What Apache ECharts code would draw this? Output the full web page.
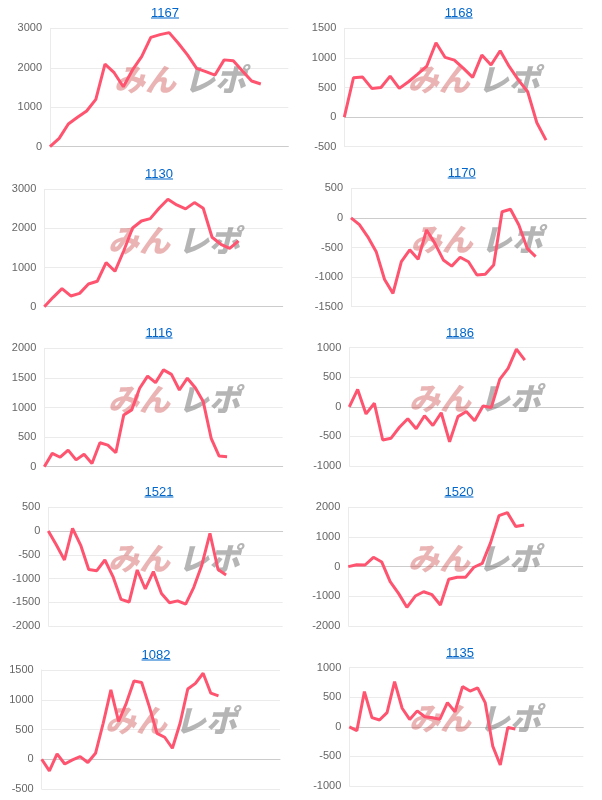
<!DOCTYPE html>
<html>
<head>
<meta charset="utf-8">
<script src="https://cdn.jsdelivr.net/npm/echarts@6/dist/echarts.min.js"></script>
<style>
  body { margin: 0; background: #fff; }
  #wrap { position: relative; width: 602px; height: 800px; }
  #main { width: 602px; height: 800px; }
  .ttl {
    position: absolute;
    font: 13px Arial, "Liberation Sans", sans-serif;
    color: #0066cc;
    text-decoration: underline;
    line-height: 13px;
    white-space: nowrap;
    transform: translate(-50%, -50%);
  }
</style>
</head>
<body>
<div id="wrap">
  <div id="main"></div>
</div>
<script>
// machine numbers (panel titles)
const titles = ['1167', '1168', '1130', '1170', '1116', '1186', '1521', '1520', '1082', '1135'];

// number of x categories on each panel
const catCounts = [27, 27, 28, 29, 31, 29, 30, 29, 32, 32];

// y axis ticks
const yMin = [0, -500, 0, -1500, 0, -1000, -2000, -2000, -500, -1000];
const yMax = [3000, 1500, 3000, 500, 2000, 1000, 500, 2000, 1500, 1000];
const yStep = [1000, 500, 1000, 500, 500, 500, 500, 1000, 500, 500];

// series values
const d1167 = [0, 210, 575, 745, 905, 1200, 2090, 1875, 1520, 1945, 2280, 2770, 2840, 2890, 2620, 2325, 1985, 1900, 1815, 2200, 2180, 1920, 1665, 1590];
const d1168 = [0, 665, 676, 485, 500, 693, 485, 597, 727, 862, 1256, 1008, 963, 822, 670, 1048, 879, 1121, 851, 625, 428, -96, -389];
const d1130 = [0, 240, 460, 275, 340, 580, 650, 1125, 905, 1430, 2010, 2190, 2250, 2515, 2745, 2600, 2500, 2660, 2515, 1775, 1595, 1490, 1680];
const d1170 = [0, -115, -320, -570, -1040, -1275, -740, -540, -700, -205, -430, -710, -815, -665, -740, -965, -950, -795, 105, 145, -120, -515, -655];
const d1116 = [0, 225, 160, 280, 115, 210, 55, 405, 365, 235, 875, 960, 1325, 1530, 1420, 1635, 1560, 1295, 1495, 1335, 1100, 480, 180, 170];
const d1186 = [0, 295, -120, 60, -560, -530, -345, -200, -370, -150, -315, -100, -590, -165, -80, -235, 15, -10, 465, 650, 975, 790];
const d1521 = [0, -295, -610, 55, -295, -808, -835, -610, -960, -1440, -1495, -820, -1220, -855, -1315, -1510, -1470, -1540, -1185, -715, -50, -810, -925];
const d1520 = [0, 65, 55, 315, 155, -505, -900, -1370, -990, -845, -945, -1290, -425, -360, -360, -20, 110, 810, 1720, 1820, 1350, 1405];
const d1082 = [0, -195, 90, -80, -10, 45, -55, 100, 605, 1165, 635, 940, 1315, 1290, 885, 435, 370, 185, 605, 1180, 1275, 1445, 1110, 1065];
const d1135 = [0, -65, 595, 155, 115, 240, 765, 315, 125, 270, 170, 155, 130, 410, 255, 680, 605, 660, 410, -325, -645, -10, -35];

const seriesData = [d1167, d1168, d1130, d1170, d1116, d1186, d1521, d1520, d1082, d1135];

// panel layout: [gridLeft, gridRight, gridTop, gridBottom, titleCenterX]
const boxes = [
  [50, 288.3, 28.3, 146.7, 165],
  [344.3, 582.7, 28.3, 146.7, 458.7],
  [44.3, 282.7, 189.3, 306.7, 159],
  [351, 586, 188.3, 306.7, 461.7],
  [44.3, 282.7, 348.3, 466.7, 159],
  [349.3, 583.3, 347.7, 466, 460],
  [48.3, 282.7, 507.3, 626, 159],
  [348.3, 582.7, 507.3, 626, 459],
  [41.7, 280, 670, 789, 156],
  [349.3, 583.3, 667.7, 786, 460]
];

const lineColor = '#ff5470';

const wrap = document.getElementById('wrap');
const grid = [], xAxis = [], yAxis = [], series = [], graphic = [];

titles.forEach((t, i) => {
  const b = boxes[i];

  const a = document.createElement('a');
  a.className = 'ttl';
  a.href = '#';
  a.textContent = t;
  a.style.left = b[4] + 'px';
  a.style.top = (b[2] - 16) + 'px';
  wrap.appendChild(a);

  grid.push({
    left: b[0],
    top: b[2],
    width: b[1] - b[0],
    height: b[3] - b[2]
  });

  const cats = [];
  for (let k = 1; k <= catCounts[i]; k++) cats.push(String(k));

  xAxis.push({
    type: 'category',
    gridIndex: i,
    data: cats,
    boundaryGap: false,
    axisLabel: { show: false },
    axisTick: { show: false },
    axisLine: { lineStyle: { color: '#cccccc', width: 1 } },
    splitLine: { show: false }
  });

  yAxis.push({
    type: 'value',
    gridIndex: i,
    min: yMin[i],
    max: yMax[i],
    interval: yStep[i],
    axisLine: { show: true, lineStyle: { color: '#ebebeb' } },
    axisTick: { show: false },
    axisLabel: {
      color: '#666',
      fontSize: 11,
      fontFamily: 'Arial, "Liberation Sans", sans-serif',
      margin: 8,
      formatter: v => String(v)
    },
    splitLine: { lineStyle: { color: '#ebebeb', width: 1 } }
  });

  series.push({
    type: 'line',
    xAxisIndex: i,
    yAxisIndex: i,
    data: seriesData[i],
    showSymbol: false,
    symbol: 'none',
    smooth: false,
    lineStyle: { color: lineColor, width: 3 },
    itemStyle: { color: lineColor },
    animation: false,
    z: 3
  });

  // site logo watermark
  const wx = b[4] + 15;
  const wy = b[2] + 50.5;
  graphic.push({
    type: 'text',
    silent: true,
    x: wx - 35,
    y: wy,
    z: 1,
    style: {
      text: 'みん',
      font: 'italic 900 31px "Noto Sans CJK JP"',
      fill: 'rgba(205,68,68,0.4)',
      align: 'center',
      verticalAlign: 'middle'
    }
  });
  graphic.push({
    type: 'text',
    silent: true,
    x: wx + 35,
    y: wy,
    z: 1,
    style: {
      text: 'レポ',
      font: 'italic 900 31px "Noto Sans CJK JP"',
      fill: 'rgba(100,100,100,0.48)',
      align: 'center',
      verticalAlign: 'middle'
    }
  });
});

const myChart = echarts.init(document.getElementById('main'));
myChart.setOption({
  animation: false,
  grid,
  xAxis,
  yAxis,
  series,
  graphic
});
</script>
</body>
</html>
